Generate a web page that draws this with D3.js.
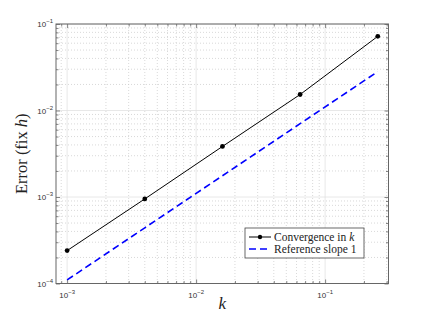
<!DOCTYPE html>
<html>
<head>
<meta charset="utf-8">
<title>Convergence in k</title>
<script src="https://cdn.jsdelivr.net/npm/d3@7"></script>
<style>
  body { margin: 0; background: #fff; }
  .tick-label { font-family: "Liberation Sans", Arial, sans-serif; font-size: 8px; fill: #333; }
  .lbl { font-family: "Liberation Serif", "DejaVu Serif", serif; fill: #222; }
  .leg { font-family: "Liberation Serif", "DejaVu Serif", serif; font-size: 11.5px; fill: #222; }
</style>
</head>
<body>
<script>
// data
var kValues = [0.001, 0.004, 0.016, 0.064, 0.256];
var errConv = [2.4e-4, 9.5e-4, 3.84e-3, 1.53e-2, 7.2e-2];
var errRef = [1.1e-4, 4.4e-4, 1.76e-3, 7.04e-3, 2.82e-2];
var xTickExp = [-3, -2, -1];
var yTickExp = [-4, -3, -2, -1];
var legendNames = ["Convergence in ", "Reference slope 1"];

var width = 429, height = 319;
var pL = 56, pT = 24, pR = 388.5, pB = 283.5;

var svg = d3.select("body").append("svg")
  .attr("width", width).attr("height", height);

var x = d3.scaleLog().domain([8.2e-4, 0.31]).range([pL, pR]);
var y = d3.scaleLog().domain([1e-4, 1e-1]).range([pB, pT]);

// minor tick values (2..9 in each decade)
var xMinor = [], yMinor = [];
for (var e = -4; e <= 0; e++) {
  for (var m = 2; m <= 9; m++) {
    var v = m * Math.pow(10, e);
    if (v > x.domain()[0] && v < x.domain()[1]) xMinor.push(v);
    if (v > y.domain()[0] && v < y.domain()[1]) yMinor.push(v);
  }
}
var xMajor = xTickExp.map(function(p){ return Math.pow(10, p); });
var yMajor = yTickExp.map(function(p){ return Math.pow(10, p); });

// grid
var grid = svg.append("g");
grid.selectAll(".xmin").data(xMinor).enter().append("line")
  .attr("x1", function(d){ return x(d); }).attr("x2", function(d){ return x(d); })
  .attr("y1", pT).attr("y2", pB)
  .attr("stroke", "#c8c8c8").attr("stroke-width", 0.7).attr("stroke-dasharray", "1,2");
grid.selectAll(".ymin").data(yMinor).enter().append("line")
  .attr("y1", function(d){ return y(d); }).attr("y2", function(d){ return y(d); })
  .attr("x1", pL).attr("x2", pR)
  .attr("stroke", "#c8c8c8").attr("stroke-width", 0.7).attr("stroke-dasharray", "1,2");
grid.selectAll(".xmaj").data(xMajor).enter().append("line")
  .attr("x1", function(d){ return x(d); }).attr("x2", function(d){ return x(d); })
  .attr("y1", pT).attr("y2", pB)
  .attr("stroke", "#e2e2e2").attr("stroke-width", 0.8);
grid.selectAll(".ymaj").data(yMajor).enter().append("line")
  .attr("y1", function(d){ return y(d); }).attr("y2", function(d){ return y(d); })
  .attr("x1", pL).attr("x2", pR)
  .attr("stroke", "#e2e2e2").attr("stroke-width", 0.8);

// axes with inward ticks on all four sides
function addAxis(axisFn, scale, vals, len, tx, ty) {
  svg.append("g")
    .attr("transform", "translate(" + tx + "," + ty + ")")
    .call(axisFn(scale).tickValues(vals).tickSize(-len).tickFormat(""))
    .call(function(g){
      g.select(".domain").remove();
      g.selectAll("line").attr("stroke", "#555").attr("stroke-width", 0.7);
    });
}
addAxis(d3.axisBottom, x, xMajor, 4, 0, pB);
addAxis(d3.axisBottom, x, xMinor, 2.5, 0, pB);
addAxis(d3.axisTop, x, xMajor, 4, 0, pT);
addAxis(d3.axisTop, x, xMinor, 2.5, 0, pT);
addAxis(d3.axisLeft, y, yMajor, 4, pL, 0);
addAxis(d3.axisLeft, y, yMinor, 2.5, pL, 0);
addAxis(d3.axisRight, y, yMajor, 4, pR, 0);
addAxis(d3.axisRight, y, yMinor, 2.5, pR, 0);

svg.append("rect")
  .attr("x", pL).attr("y", pT)
  .attr("width", pR - pL).attr("height", pB - pT)
  .attr("fill", "none").attr("stroke", "#666").attr("stroke-width", 1);

// tick labels 10^p
xTickExp.forEach(function(p){
  var t = svg.append("text").attr("class", "tick-label")
    .attr("x", x(Math.pow(10, p))).attr("y", pB + 14)
    .attr("text-anchor", "middle");
  t.append("tspan").text("10");
  t.append("tspan").attr("dy", -4).attr("font-size", "6px").text("\u2212" + Math.abs(p));
});
yTickExp.forEach(function(p){
  var t = svg.append("text").attr("class", "tick-label")
    .attr("x", pL - 3).attr("y", y(Math.pow(10, p)) + 3)
    .attr("text-anchor", "end");
  t.append("tspan").text("10");
  t.append("tspan").attr("dy", -4).attr("font-size", "6px").text("\u2212" + Math.abs(p));
});

// axis titles
svg.append("text").attr("class", "lbl")
  .attr("x", (pL + pR) / 2).attr("y", 309)
  .attr("text-anchor", "middle").attr("font-size", "17px")
  .attr("font-style", "italic").text("k");
var yl = svg.append("text").attr("class", "lbl")
  .attr("transform", "translate(27," + ((pT + pB) / 2) + ") rotate(-90)")
  .attr("text-anchor", "middle").attr("font-size", "16.5px");
yl.append("tspan").text("Error (fix ");
yl.append("tspan").attr("font-style", "italic").text("h");
yl.append("tspan").text(")");

// lines
var convData = kValues.map(function(k, i){ return [k, errConv[i]]; });
var refData = kValues.map(function(k, i){ return [k, errRef[i]]; });
var line = d3.line()
  .x(function(d){ return x(d[0]); })
  .y(function(d){ return y(d[1]); });

svg.append("path").attr("d", line(refData))
  .attr("fill", "none").attr("stroke", "#0000ff")
  .attr("stroke-width", 1.6).attr("stroke-dasharray", "7,4");
svg.append("path").attr("d", line(convData))
  .attr("fill", "none").attr("stroke", "#000").attr("stroke-width", 1);
svg.selectAll(".pt").data(convData).enter().append("circle")
  .attr("cx", function(d){ return x(d[0]); })
  .attr("cy", function(d){ return y(d[1]); })
  .attr("r", 2.4).attr("fill", "#000");

// legend
var lg = svg.append("g").attr("transform", "translate(245,228)");
lg.append("rect").attr("width", 119).attr("height", 30)
  .attr("fill", "#fff").attr("stroke", "#444").attr("stroke-width", 0.8);
lg.append("line").attr("x1", 4).attr("x2", 26).attr("y1", 9).attr("y2", 9)
  .attr("stroke", "#000").attr("stroke-width", 1);
lg.append("circle").attr("cx", 15).attr("cy", 9).attr("r", 2.2).attr("fill", "#000");
lg.append("line").attr("x1", 4).attr("x2", 26).attr("y1", 21).attr("y2", 21)
  .attr("stroke", "#0000ff").attr("stroke-width", 1.6).attr("stroke-dasharray", "7,4");
var t1 = lg.append("text").attr("class", "leg").attr("x", 29).attr("y", 13);
t1.append("tspan").text(legendNames[0]);
t1.append("tspan").attr("font-style", "italic").text("k");
lg.append("text").attr("class", "leg").attr("x", 29).attr("y", 25).text(legendNames[1]);
</script>
</body>
</html>
